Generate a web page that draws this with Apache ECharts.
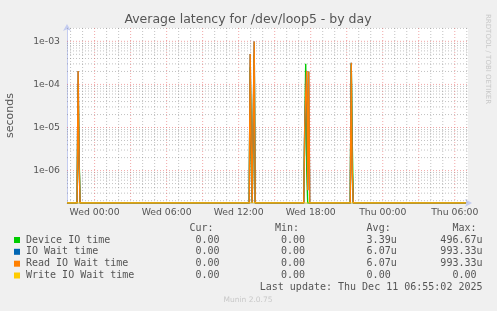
<!DOCTYPE html>
<html><head><meta charset="utf-8">
<script src="https://cdn.jsdelivr.net/npm/echarts@6/dist/echarts.min.js"></script>
<style>html,body{margin:0;padding:0;background:#f0f0f0}#c{width:497px;height:311px}</style>
</head><body><div id="c"></div>
<script>
// hours relative to Wed 00:00
const sampleHours = [-2.3, -1.458, -1.375, -1.292, -1.208,
  12.875, 12.958, 13.042, 13.125, 13.208, 13.292, 13.375,
  17.417, 17.5, 17.583, 17.667, 17.75, 17.833, 17.917,
  21.292, 21.375, 21.458, 21.542, 30.92];
const deviceIO  = [0, 0, 1.0e-4, 2e-6, 0,  0, 2.5e-4, 3e-6, 0, 0, 4.97e-4, 0,  0, 0, 3.0e-4, 1e-6, 0, 0, 0,  0, 3.0e-4, 5e-6, 0, 0];
const ioWait    = [0, 0, 2.06e-4, 1.5e-6, 0,  0, 5.1e-4, 4e-6, 0, 0, 9.93e-4, 0,  0, 1e-5, 6e-5, 2.06e-4, 3.5e-7, 2.0e-4, 0,  0, 3.2e-4, 1e-6, 0, 0];
const readWait  = [0, 0, 2.06e-4, 1.5e-6, 0,  0, 5.1e-4, 4e-6, 0, 0, 9.93e-4, 0,  0, 1e-5, 6e-5, 2.06e-4, 3.5e-7, 2.0e-4, 0,  0, 3.2e-4, 1e-6, 0, 0];
const writeWait = [0, 0, 0, 0, 0,  0, 0, 0, 0, 0, 0, 0,  0, 0, 0, 0, 0, 0, 0,  0, 0, 0, 0, 0];

const xTickHours  = [0, 6, 12, 18, 24, 30];
const xTickLabels = ['Wed 00:00', 'Wed 06:00', 'Wed 12:00', 'Wed 18:00', 'Thu 00:00', 'Thu 06:00'];
const yTickValues = [1e-6, 1e-5, 1e-4, 1e-3];
const yTickLabels = ['1e-06', '1e-05', '1e-04', '1e-03'];

const seriesNames  = ['Device IO time', 'IO Wait time', 'Read IO Wait time', 'Write IO Wait time'];
const seriesColors = ['#00cc00', '#0066b3', '#ff8000', '#ffcc00'];
const curVals = ['0.00', '0.00', '0.00', '0.00'];
const minVals = ['0.00', '0.00', '0.00', '0.00'];
const avgVals = ['3.39u', '6.07u', '6.07u', '0.00 '];
const maxVals = ['496.67u', '993.33u', '993.33u', '0.00 '];
const colHeaders = ['Cur: ', 'Min: ', 'Avg: ', 'Max: '];

const titleText = 'Average latency for /dev/loop5 - by day';
const yAxisName = 'seconds';
const lastUpdate = 'Last update: Thu Dec 11 06:55:02 2025';
const footer = 'Munin 2.0.75';
const sideText = 'RRDTOOL / TOBI OETIKER';

const X_MIN = -2.3, X_MAX = 31.1;
const Y_MIN = 1.77e-7, Y_MAX = 2.04e-3;

const chart = echarts.init(document.getElementById('c'));

function seriesData(vals) {
  return sampleHours.map((h, i) => [h, vals[i] > 0 ? vals[i] : Y_MIN]);
}

// grid line positions
const minorX = [], majorX = [], minorY = [], majorY = [];
for (let h = -2; h <= 31; h++) { if (h % 3 === 0) majorX.push(h); else minorX.push(h); }
for (let e = -7; e <= -3; e++) {
  for (let m = 1; m <= 9; m++) {
    const v = m * Math.pow(10, e);
    if (v < Y_MIN || v > Y_MAX) continue;
    if (m === 1) majorY.push(v); else minorY.push(v);
  }
}
function segs(xs, ys) {
  const out = [];
  xs.forEach(h => { out.push([h, Y_MIN], [h, Y_MAX], ['-', '-']); });
  ys.forEach(v => { out.push([X_MIN, v], [X_MAX, v], ['-', '-']); });
  return out;
}
const minorStyle = {color: 'rgba(120,120,120,0.45)', width: 1, type: [1, 2]};
const majorStyle = {color: 'rgba(230,80,80,0.5)', width: 1, type: [1, 2]};

const gridSeries = [
  {type: 'line', data: segs(minorX, minorY), symbol: 'none', showSymbol: false, silent: true, z: 1, connectNulls: false, lineStyle: minorStyle},
  {type: 'line', data: segs(majorX, majorY), symbol: 'none', showSymbol: false, silent: true, z: 2, connectNulls: false, lineStyle: majorStyle}
];

const dataSeries = [deviceIO, ioWait, readWait, writeWait].map((vals, i) => ({
  name: seriesNames[i], type: 'line', data: seriesData(vals),
  showSymbol: false, symbol: 'none', z: 3 + i, animation: false,
  lineStyle: {color: seriesColors[i], width: i === 3 ? 1 : 1.4}, itemStyle: {color: seriesColors[i]}
}));

const graphics = [];
const txtColor = '#555';
graphics.push({type: 'text', x: 248, y: 19.5, style: {text: titleText, font: '12.5px "DejaVu Sans"', fill: txtColor, align: 'center', verticalAlign: 'middle'}});
graphics.push({type: 'text', x: 488, y: 14, rotation: -Math.PI / 2, style: {text: sideText, font: '7px "DejaVu Sans"', fill: '#c8c8c8', align: 'left', verticalAlign: 'middle'}});
const colRight = [219.5, 305, 396.7, 482.5];
const rowY = [228.3, 240, 251.8, 263.7, 275.5];
colHeaders.forEach((t, j) => graphics.push({type: 'text', x: colRight[j], y: rowY[0], style: {text: t, font: '10px "DejaVu Sans Mono"', fill: txtColor, align: 'right', verticalAlign: 'middle'}}));
seriesNames.forEach((n, i) => {
  const y = rowY[i + 1];
  graphics.push({type: 'rect', shape: {x: 14, y: y - 3, width: 6, height: 6}, style: {fill: seriesColors[i]}});
  graphics.push({type: 'text', x: 26, y: y, style: {text: n, font: '10px "DejaVu Sans Mono"', fill: txtColor, align: 'left', verticalAlign: 'middle'}});
  [curVals[i], minVals[i], avgVals[i], maxVals[i]].forEach((v, j) => {
    graphics.push({type: 'text', x: colRight[j], y: y, style: {text: v, font: '10px "DejaVu Sans Mono"', fill: txtColor, align: 'right', verticalAlign: 'middle'}});
  });
});
graphics.push({type: 'text', x: 482.5, y: 287.3, style: {text: lastUpdate, font: '10px "DejaVu Sans Mono"', fill: txtColor, align: 'right', verticalAlign: 'middle'}});
graphics.push({type: 'text', x: 248, y: 300.5, style: {text: footer, font: '7.5px "DejaVu Sans"', fill: '#c8c8c8', align: 'center', verticalAlign: 'middle'}});

chart.setOption({
  animation: false,
  backgroundColor: '#f0f0f0',
  grid: {left: 67, right: 29, top: 28, bottom: 108, show: true, backgroundColor: '#ffffff', borderWidth: 0, containLabel: false, outerBoundsMode: 'none'},
  xAxis: {
    type: 'value', min: X_MIN, max: X_MAX,
    axisLine: {show: true, onZero: false, lineStyle: {color: '#c4ccf0', width: 1}, symbol: ['none', 'arrow'], symbolSize: [6, 7], symbolOffset: [0, 4]},
    axisTick: {show: false},
    splitLine: {show: false},
    axisLabel: {customValues: xTickHours, formatter: v => xTickLabels[xTickHours.indexOf(v)], color: txtColor, fontFamily: 'DejaVu Sans', fontSize: 9.3, margin: 5}
  },
  yAxis: {
    type: 'log', logBase: 10, min: Y_MIN, max: Y_MAX,
    name: yAxisName, nameLocation: 'middle', nameRotate: 90, nameGap: 51,
    nameTextStyle: {color: txtColor, fontFamily: 'DejaVu Sans', fontSize: 11},
    axisLine: {show: true, onZero: false, lineStyle: {color: '#c4ccf0', width: 1}, symbol: ['none', 'arrow'], symbolSize: [6, 7], symbolOffset: [0, 4]},
    axisTick: {show: false},
    splitLine: {show: false},
    minorSplitLine: {show: false},
    axisLabel: {customValues: yTickValues, formatter: v => {
      let k = 0, best = Infinity;
      yTickValues.forEach((t, i) => { const d = Math.abs(Math.log10(t) - Math.log10(v)); if (d < best) { best = d; k = i; } });
      return yTickLabels[k];
    }, color: txtColor, fontFamily: 'DejaVu Sans', fontSize: 9.3, margin: 7}
  },
  series: gridSeries.concat(dataSeries),
  graphic: graphics
});
</script>
</body></html>
